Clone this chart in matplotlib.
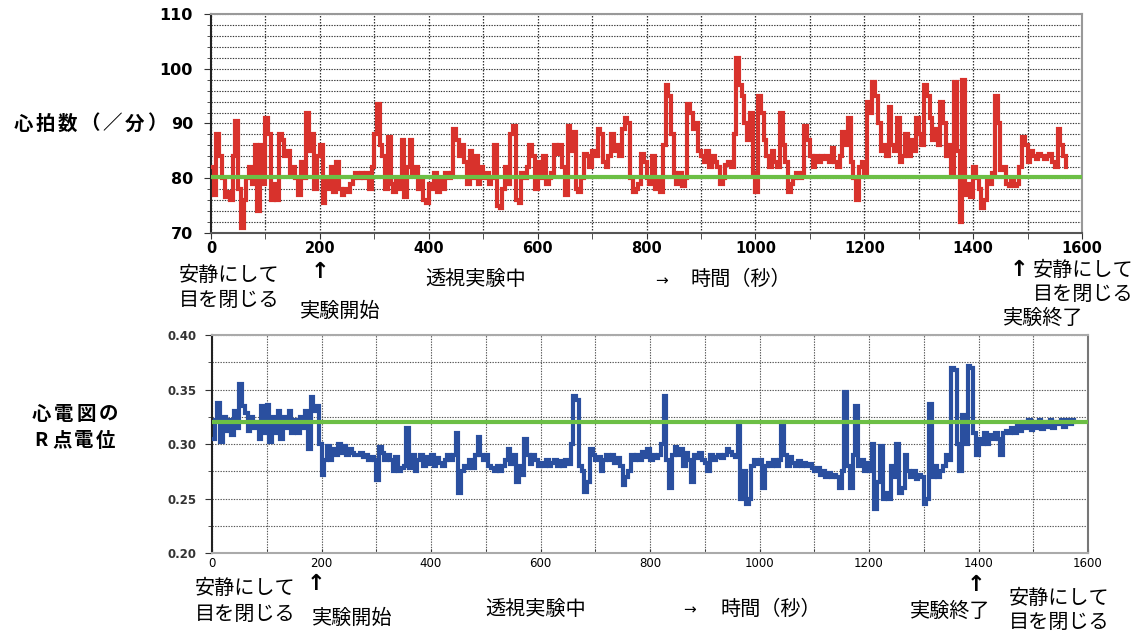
import numpy as np
import matplotlib
matplotlib.use("Agg")
import matplotlib.pyplot as plt

plt.rcParams['font.family'] = ['Noto Sans CJK JP', 'DejaVu Sans']

# ---------------- data (sampled every 5 s) ----------------
STEP = 5
heart_rate = [
    82, 77, 88, 84, 80, 76.5, 77.5, 76, 84, 90.5, 78, 71, 76, 80, 82, 79, 86, 74, 86, 79,
    91, 88, 76, 79, 76, 88, 87, 84, 85, 81, 82, 80, 77, 83, 80, 92, 85, 88, 78, 84,
    86, 75.5, 80, 78, 82, 77.5, 83, 78, 77, 78, 77.5, 79, 80, 81, 80, 81, 80, 81, 78, 82,
    88, 93.5, 86, 84, 78, 87.5, 79, 77.5, 80, 78, 87, 76.5, 82, 87, 81, 82, 78, 80, 76, 75.5,
    79, 78, 81, 77.5, 80, 78, 81, 80, 81, 89, 87, 84, 86, 83, 79, 85, 80, 84, 79, 82,
    80, 81, 79, 80, 86, 75, 74.5, 78, 82, 79, 88, 89.5, 76, 75.5, 81, 80, 82, 86, 84, 78,
    83, 80, 84, 79, 80, 81, 86, 84.5, 86, 82, 77, 89.5, 85, 88.5, 78, 77.5, 80, 84.5, 84, 82,
    85, 84, 89, 88, 83, 82, 84, 88, 85, 86, 84, 89, 91, 90, 80, 77.5, 78, 79, 84.5, 83,
    80, 79, 84, 78, 80, 77.5, 86, 97, 95, 88, 81, 79, 81, 78.5, 80, 93.5, 92, 89, 90, 85,
    84, 83, 85, 82, 84, 83, 82, 79, 80, 82.5, 83, 82, 88, 102, 97, 95, 90, 87, 92, 81,
    77.5, 95, 92, 87, 84, 82, 85, 83, 82, 92, 86, 83, 77.5, 79, 80, 81, 80, 81, 89.5, 87,
    84, 82, 84, 83, 84, 83.5, 84, 83, 85.5, 83, 82, 84, 88.5, 86, 91, 83, 80, 76, 82, 83,
    81, 94, 92, 97.5, 95, 90, 85, 86, 84, 93, 86, 85, 91, 83, 84, 88, 84, 87, 85, 91,
    88, 86, 97, 95, 91, 87, 89, 86, 94, 90, 84, 86, 80.5, 97.5, 85, 72, 98, 77, 79, 76.5,
    82, 80, 78, 74.5, 76, 80, 79, 81, 95, 90, 81.5, 82, 79, 78.5, 80, 78.5, 79, 82, 87.5, 86,
    83, 85, 84, 83.5, 84.5, 84, 83.5, 84, 84.5, 83, 82, 89, 86, 84, 82,
]
hr_baseline = 80.3

r_potential = [
    0.305, 0.322, 0.338, 0.302, 0.325, 0.312, 0.322, 0.308, 0.33, 0.315, 0.355, 0.335, 0.328, 0.312, 0.325, 0.315, 0.32, 0.305, 0.335, 0.31,
    0.336, 0.302, 0.325, 0.31, 0.33, 0.305, 0.325, 0.315, 0.33, 0.31, 0.322, 0.31, 0.325, 0.315, 0.33, 0.295, 0.343, 0.33, 0.335, 0.30,
    0.272, 0.285, 0.298, 0.285, 0.295, 0.29, 0.30, 0.292, 0.298, 0.29, 0.295, 0.292, 0.29, 0.29, 0.292, 0.288, 0.29, 0.285, 0.288, 0.285,
    0.267, 0.297, 0.292, 0.285, 0.29, 0.285, 0.275, 0.288, 0.275, 0.278, 0.28, 0.315, 0.278, 0.29, 0.275, 0.285, 0.29, 0.28, 0.288, 0.282,
    0.29, 0.28, 0.287, 0.283, 0.28, 0.285, 0.29, 0.285, 0.29, 0.31, 0.255, 0.275, 0.28, 0.278, 0.285, 0.278, 0.29, 0.306, 0.29, 0.285,
    0.29, 0.28, 0.278, 0.275, 0.28, 0.275, 0.28, 0.285, 0.295, 0.282, 0.29, 0.265, 0.28, 0.272, 0.305, 0.29, 0.282, 0.29, 0.285, 0.28,
    0.283, 0.28, 0.285, 0.28, 0.283, 0.285, 0.28, 0.284, 0.28, 0.285, 0.282, 0.30, 0.344, 0.34, 0.28, 0.275, 0.256, 0.265, 0.295, 0.29,
    0.285, 0.288, 0.275, 0.285, 0.29, 0.285, 0.29, 0.283, 0.287, 0.28, 0.262, 0.27, 0.275, 0.29, 0.285, 0.29, 0.285, 0.293, 0.288, 0.295,
    0.285, 0.29, 0.287, 0.29, 0.30, 0.344, 0.285, 0.26, 0.29, 0.297, 0.29, 0.295, 0.28, 0.292, 0.285, 0.265, 0.29, 0.287, 0.292, 0.285,
    0.283, 0.275, 0.29, 0.285, 0.288, 0.29, 0.287, 0.29, 0.295, 0.293, 0.29, 0.288, 0.32, 0.25, 0.275, 0.245, 0.25, 0.28, 0.285, 0.282,
    0.285, 0.26, 0.28, 0.283, 0.28, 0.285, 0.28, 0.285, 0.32, 0.29, 0.28, 0.288, 0.283, 0.28, 0.284, 0.28, 0.283, 0.28, 0.282, 0.278,
    0.275, 0.278, 0.272, 0.275, 0.27, 0.273, 0.27, 0.272, 0.27, 0.26, 0.275, 0.348, 0.28, 0.26, 0.29, 0.335, 0.28, 0.285, 0.275, 0.283,
    0.275, 0.30, 0.24, 0.265, 0.298, 0.25, 0.255, 0.25, 0.28, 0.27, 0.30, 0.255, 0.26, 0.29, 0.275, 0.27, 0.275, 0.268, 0.272, 0.27,
    0.245, 0.25, 0.337, 0.27, 0.28, 0.27, 0.275, 0.28, 0.29, 0.285, 0.37, 0.368, 0.30, 0.275, 0.327, 0.30, 0.372, 0.37, 0.31, 0.29,
    0.305, 0.30, 0.31, 0.30, 0.308, 0.305, 0.31, 0.305, 0.29, 0.31, 0.312, 0.31, 0.315, 0.31, 0.318, 0.312, 0.32, 0.315, 0.322, 0.313,
    0.32, 0.315, 0.322, 0.314, 0.32, 0.316, 0.322, 0.315, 0.32, 0.318, 0.322, 0.316, 0.322, 0.318, 0.322, 0.32,
]
r_baseline = 0.32

x_ticks = [0, 200, 400, 600, 800, 1000, 1200, 1400, 1600]
hr_yticks = [70, 80, 90, 100, 110]
r_yticks = [0.20, 0.25, 0.30, 0.35, 0.40]
r_yticklabels = ['0.20', '0.25', '0.30', '0.35', '0.40']

# ---------------- figure ----------------
W, H = 1146, 631
fig = plt.figure(figsize=(W / 100, H / 100), dpi=100)

def fx(px):
    return px / W

def fy(py):
    return 1 - py / H

RED = '#d8322c'
BLUE = '#2a4f9f'
GREEN = '#6cbf45'

# ---- top panel: heart rate ----
ax1 = fig.add_axes([fx(211), fy(233), fx(1082) - fx(211), fy(14) - fy(233)])
t_hr = np.arange(len(heart_rate)) * STEP
ax1.plot(t_hr, heart_rate, color=RED, lw=3.0, drawstyle='steps-post', zorder=3,
         solid_joinstyle='miter')
ax1.axhline(hr_baseline, color=GREEN, lw=3, zorder=4)
ax1.set_xlim(0, 1600)
ax1.set_ylim(70, 110)
ax1.set_xticks(x_ticks)
ax1.set_xticks(np.arange(0, 1601, 100), minor=True)
ax1.set_yticks(hr_yticks)
ax1.set_yticks(np.arange(70, 111, 2), minor=True)
ax1.grid(which='both', axis='y', color='#333333', ls=(0, (1.2, 1.2)), lw=0.8)
ax1.grid(which='both', axis='x', color='#333333', ls=(0, (1.2, 1.2)), lw=0.9)
ax1.set_xticklabels([str(v) for v in x_ticks], fontfamily='DejaVu Sans', fontweight='bold', fontsize=10.5)
ax1.set_yticklabels([str(v) for v in hr_yticks], fontfamily='DejaVu Sans', fontweight='bold', fontsize=11.5)
ax1.tick_params(axis='x', which='both', direction='out', length=4, pad=2, color='#333333')
ax1.tick_params(axis='y', which='major', direction='out', length=5, pad=8, color='#333333')
ax1.tick_params(axis='y', which='minor', direction='out', length=3, color='#333333')
for s in ['top', 'right']:
    ax1.spines[s].set_color('#999999')
    ax1.spines[s].set_linewidth(1.5)
ax1.spines['left'].set_color('#222222')
ax1.spines['left'].set_linewidth(1.5)
ax1.spines['bottom'].set_color('#555555')
ax1.spines['bottom'].set_linewidth(1.5)

# ---- bottom panel: R point potential ----
ax2 = fig.add_axes([fx(212), fy(553), fx(1088) - fx(212), fy(335) - fy(553)])
t_r = np.arange(len(r_potential)) * STEP
ax2.plot(t_r, r_potential, color=BLUE, lw=3.0, drawstyle='steps-post', zorder=3,
         solid_joinstyle='miter')
ax2.axhline(r_baseline, color=GREEN, lw=3, zorder=4)
ax2.set_xlim(0, 1600)
ax2.set_ylim(0.20, 0.40)
ax2.set_xticks(x_ticks)
ax2.set_xticks(np.arange(0, 1601, 100), minor=True)
ax2.set_yticks(r_yticks)
ax2.set_yticks(np.arange(0.20, 0.401, 0.025), minor=True)
ax2.grid(which='both', color='#555555', ls=(0, (1.2, 1.2)), lw=0.8)
ax2.set_xticklabels([str(v) for v in x_ticks], fontfamily=['Liberation Sans Narrow', 'DejaVu Sans'],
                    fontsize=8.5)
ax2.set_yticklabels(r_yticklabels, fontfamily='DejaVu Sans', fontweight='bold', fontsize=8.5,
                    color='#333333')
ax2.tick_params(axis='x', which='both', direction='in', length=3, pad=3, color='#333333')
ax2.tick_params(axis='y', which='major', direction='out', length=5, pad=6, color='#333333')
ax2.tick_params(axis='y', which='minor', direction='out', length=3, color='#333333')
for s in ['top', 'right', 'bottom']:
    ax2.spines[s].set_color('#aaaaaa')
    ax2.spines[s].set_linewidth(1.5)
ax2.spines['right'].set_color('#777777')
ax2.spines['left'].set_color('#222222')
ax2.spines['left'].set_linewidth(1.5)

# ---------------- text ----------------
JP = ['Noto Sans CJK JP', 'DejaVu Sans']

def spaced(text, x0, y, pitch, size, weight='bold'):
    for i, ch in enumerate(text):
        fig.text(fx(x0 + i * pitch + pitch / 2), fy(y), ch, ha='center', va='center',
                 fontsize=size, fontweight=weight, family=JP)

spaced('心拍数（／分）', 12, 124, 22.3, 14)
spaced('心電図の', 30, 414, 22.5, 14)
spaced('R点電位', 30, 441, 21.5, 14)

def jt(s, x, y, size=14.5, ha='left'):
    fig.text(fx(x), fy(y), s, ha=ha, va='center', fontsize=size, family=JP)

def arrow_up(x, y):
    fig.text(fx(x), fy(y), '↑', ha='center', va='center', fontsize=16, fontweight='bold',
             family=['DejaVu Sans'])

# top annotations
jt('安静にして', 179, 275)
jt('目を閉じる', 179, 300)
arrow_up(320, 272)
jt('実験開始', 300, 311)
jt('透視実験中', 425, 279)
fig.text(fx(661), fy(281), '→', ha='center', va='center', fontsize=11, family=['DejaVu Sans'])
jt('時間（秒）', 690, 279)
arrow_up(1019, 270)
jt('安静にして', 1033, 270)
jt('目を閉じる', 1033, 294)
jt('実験終了', 1003, 318)

# bottom annotations
jt('安静にして', 195, 588)
arrow_up(316, 584)
jt('目を閉じる', 195, 614)
jt('実験開始', 312, 618)
jt('透視実験中', 485, 609)
fig.text(fx(690), fy(610), '→', ha='center', va='center', fontsize=11, family=['DejaVu Sans'])
jt('時間（秒）', 720, 609)
arrow_up(976, 585)
jt('実験終了', 910, 611)
jt('安静にして', 1009, 598)
jt('目を閉じる', 1009, 622)

fig.savefig('out.png', dpi=100)
